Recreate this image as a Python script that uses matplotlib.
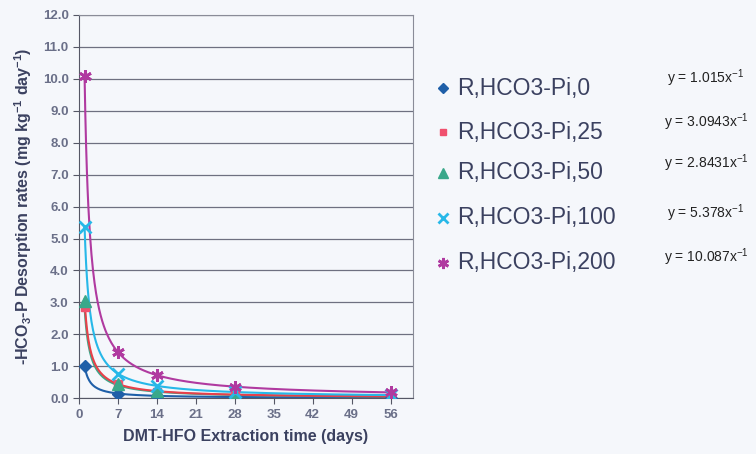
import numpy as np
import matplotlib.pyplot as plt

plt.rcParams["font.family"] = ["Liberation Sans", "DejaVu Sans"]
plt.rcParams["mathtext.default"] = "regular"

days = [1, 7, 14, 28, 56]
labels = ["R,HCO3-Pi,0", "R,HCO3-Pi,25", "R,HCO3-Pi,50", "R,HCO3-Pi,100", "R,HCO3-Pi,200"]
rate_0 = [1.0, 0.14, 0.07, 0.04, 0.02]
rate_25 = [2.85, 0.44, 0.20, 0.10, 0.05]
rate_50 = [3.05, 0.45, 0.21, 0.10, 0.05]
rate_100 = [5.35, 0.77, 0.38, 0.19, 0.10]
rate_200 = [10.1, 1.45, 0.72, 0.36, 0.20]
coef = [1.015, 3.0943, 2.8431, 5.378, 10.087]
coef_text = ["1.015", "3.0943", "2.8431", "5.378", "10.087"]

colors = ["#1f5fa8", "#f0506e", "#3aa88a", "#27b8e8", "#b03aa0"]
markers = ["D", "s", "^", "x", (6, 2, 0)]
msizes = [6, 6, 8, 8, 9]
series = [rate_0, rate_25, rate_50, rate_100, rate_200]
fit_cols = ["#1f5fa8", "#e8404a", "#3aa88a", "#27b8e8", "#b03aa0"]

bg = "#f5f7fb"
txt = "#3b4160"
fig = plt.figure(figsize=(7.56, 4.54), dpi=100, facecolor=bg)
ax = fig.add_axes([0.1045, 0.123, 0.4415, 0.844])
ax.set_facecolor(bg)

# trendlines y = a/x
xx = np.linspace(1, 56, 400)
for i in [0, 2, 1, 3, 4]:
    ax.plot(xx, coef[i] / xx, color=fit_cols[i], lw=1.5, zorder=2)
for i in range(5):
    ax.plot(days, series[i], ls="none", marker=markers[i], color=colors[i],
            ms=msizes[i], mew=2 if i >= 3 else 1, zorder=3)

ax.set_xlim(0, 60)
ax.set_ylim(0, 12)
ax.set_xticks(range(0, 57, 7))
ax.set_yticks(np.arange(0, 12.1, 1))
ax.set_yticklabels(["%.1f" % v for v in np.arange(0, 12.1, 1)])
ax.grid(axis="y", color="#6e7080", lw=0.9)
ax.set_axisbelow(True)
for s in ax.spines.values():
    s.set_color("#8a8c98")
ax.spines["left"].set_color("#555766")
ax.spines["bottom"].set_color("#555766")
ax.tick_params(colors="#555766", labelsize=9.5, length=4, direction="out")
for t in ax.get_xticklabels() + ax.get_yticklabels():
    t.set_fontweight("bold")
    t.set_color("#6a6f88")

ax.set_xlabel("DMT-HFO Extraction time (days)", fontsize=11.5, fontweight="bold",
              color=txt, labelpad=6)
ax.set_ylabel("-HCO$_3$-P Desorption rates (mg kg$^{-1}$ day$^{-1}$)",
              fontsize=11.5, fontweight="bold", color=txt, labelpad=6)

row_y = [88, 132, 173, 218, 263]
eq_y = [78, 122, 163, 213, 257]
for i in range(5):
    fy = 1 - row_y[i] / 454
    fig.lines.append(plt.Line2D([443 / 756], [fy], transform=fig.transFigure,
                                ls="none", marker=markers[i], color=colors[i],
                                ms=msizes[i] - 1, mew=2 if i >= 3 else 1))
    fig.text(457 / 756, fy, labels[i], fontsize=16.5, color=txt, va="center")
    fig.text(706 / 756, 1 - eq_y[i] / 454, "y = %sx$^{-1}$" % coef_text[i],
             fontsize=10, color="#222", va="center", ha="center")

fig.savefig("out.png", dpi=100, facecolor=bg)
